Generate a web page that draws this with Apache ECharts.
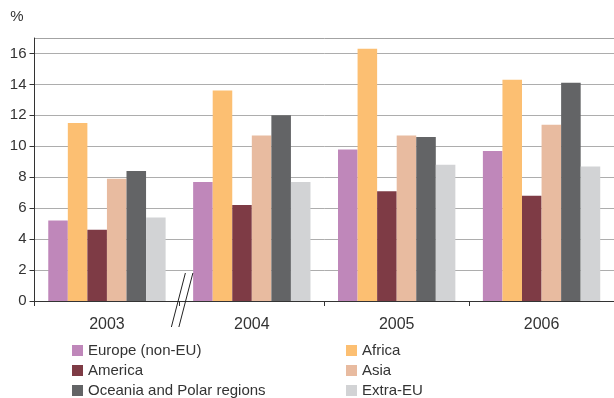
<!DOCTYPE html>
<html>
<head>
<meta charset="utf-8">
<script src="https://cdn.jsdelivr.net/npm/echarts@6/dist/echarts.min.js"></script>
<style>
  html, body { margin: 0; padding: 0; background: #fff; }
  #chart { width: 614px; height: 398px; }
</style>
</head>
<body>
<div id="chart"></div>
<script>
// Years on the category axis
const years = ['2003', '2004', '2005', '2006'];

// Share per region of origin, in %
const europeNonEU = [5.2, 7.7, 9.8, 9.7];
const africa = [11.5, 13.6, 16.3, 14.3];
const america = [4.6, 6.2, 7.1, 6.8];
const asia = [7.9, 10.7, 10.7, 11.4];
const oceaniaPolar = [8.4, 12.0, 10.6, 14.1];
const extraEU = [5.4, 7.7, 8.8, 8.7];

// Value axis ticks
const yTicks = [0, 2, 4, 6, 8, 10, 12, 14, 16];

const seriesDefs = [
  { name: 'Europe (non-EU)', data: europeNonEU, color: '#BF87BA' },
  { name: 'Africa', data: africa, color: '#FCBF72' },
  { name: 'America', data: america, color: '#7E3B45' },
  { name: 'Asia', data: asia, color: '#E8BBA0' },
  { name: 'Oceania and Polar regions', data: oceaniaPolar, color: '#636466' },
  { name: 'Extra-EU', data: extraEU, color: '#D2D3D5' }
];

const font = 'Liberation Sans, Arial, sans-serif';
const chart = echarts.init(document.getElementById('chart'));

const legendBase = {
  orient: 'vertical',
  icon: 'rect',
  itemWidth: 11,
  itemHeight: 11,
  itemGap: 3,
  top: 342,
  height: 60,
  padding: 0,
  selectedMode: false,
  textStyle: { fontFamily: font, fontSize: 15, color: '#333', lineHeight: 17 }
};

// Grid lines: regular ticks, then a slightly darker top border
const gridColors = yTicks.map(() => '#ADADAD').concat(['#A3A3A3']);

chart.setOption({
  animation: false,
  textStyle: { fontFamily: font },
  grid: { left: 34.5, right: -3, top: 38, bottom: 97 },
  legend: [
    Object.assign({}, legendBase, { left: 72, data: ['Europe (non-EU)', 'America', 'Oceania and Polar regions'] }),
    Object.assign({}, legendBase, { left: 346, data: ['Africa', 'Asia', 'Extra-EU'] })
  ],
  xAxis: {
    type: 'category',
    data: years,
    axisLine: { lineStyle: { color: '#333', width: 1 } },
    axisTick: { show: true, length: 5, lineStyle: { color: '#333' } },
    axisLabel: { fontFamily: font, fontSize: 16, color: '#333', margin: 16 }
  },
  yAxis: {
    type: 'value',
    min: 0,
    max: 17,
    interval: 2,
    name: '%',
    nameLocation: 'end',
    nameGap: 14,
    nameTextStyle: { fontFamily: font, fontSize: 15, color: '#333', align: 'right', padding: [0, 11, 0, 0] },
    axisLine: { show: true, lineStyle: { color: '#333' } },
    axisTick: { show: true, length: 5, lineStyle: { color: '#333' } },
    axisLabel: {
      fontFamily: font, fontSize: 15, color: '#333', margin: 8,
      showMaxLabel: false,
      formatter: v => (yTicks.indexOf(v) >= 0 ? String(v) : '')
    },
    splitLine: { lineStyle: { color: gridColors, width: 1 } }
  },
  series: seriesDefs.map(s => ({
    name: s.name,
    type: 'bar',
    data: s.data,
    barGap: '0%',
    barCategoryGap: '19%',
    itemStyle: { color: s.color },
    emphasis: { disabled: true }
  }))
});

// Axis-break marks straddling the baseline between the first two years
const p0 = chart.convertToPixel({ xAxisIndex: 0, yAxisIndex: 0 }, [0, 0]);
const p1 = chart.convertToPixel({ xAxisIndex: 0, yAxisIndex: 0 }, [1, 0]);
const bx = (p0[0] + p1[0]) / 2;
const by = p0[1];
const slash = dx => ({
  type: 'line',
  shape: { x1: bx + 6 + dx, y1: by - 28, x2: bx - 8 + dx, y2: by + 26 },
  style: { stroke: '#222', lineWidth: 1 },
  z: 100
});
chart.setOption({ graphic: [slash(0), slash(7.5)] });
</script>
</body>
</html>
